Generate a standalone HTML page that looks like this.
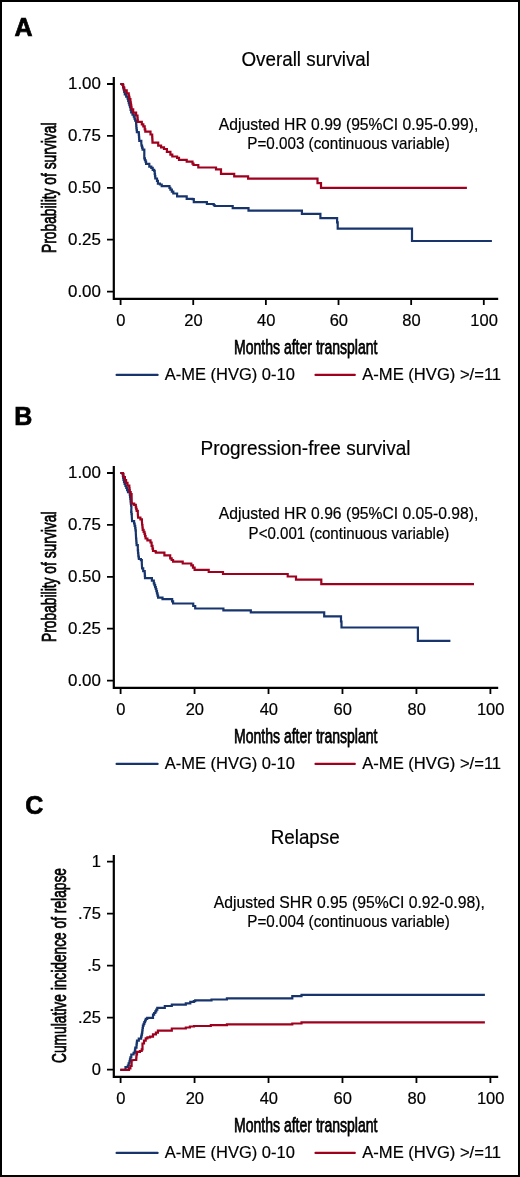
<!DOCTYPE html>
<html><head><meta charset="utf-8"><style>
html,body{margin:0;padding:0;background:#fff;}
svg{display:block;will-change:transform;}
text{font-family:"Liberation Sans", sans-serif;fill:#000;stroke:#000;stroke-width:0.2px;}
</style></head><body>
<svg width="520" height="1177" viewBox="0 0 520 1177">
<rect x="1" y="1" width="518" height="1175" fill="#fff" stroke="#000" stroke-width="2"/>
<text x="14.4" y="35.8" font-size="25" font-weight="bold" style="stroke-width:0.7px">A</text>
<text x="241.5" y="65.5" font-size="20.6" textLength="128.5" lengthAdjust="spacingAndGlyphs">Overall survival</text>
<text x="218.8" y="129.7" font-size="16.4" textLength="259.5" lengthAdjust="spacingAndGlyphs">Adjusted HR 0.99 (95%CI 0.95-0.99),</text>
<text x="247.3" y="148.7" font-size="16.4" textLength="202.5" lengthAdjust="spacingAndGlyphs">P=0.003 (continuous variable)</text>
<path d="M113.8,77 V299.8 M112.7,298.8 H498.2" stroke="#000" stroke-width="2.2" fill="none"/>
<text x="100.9" y="89.3" font-size="16.5" text-anchor="end" textLength="32.9" lengthAdjust="spacingAndGlyphs">1.00</text>
<text x="100.9" y="141.2" font-size="16.5" text-anchor="end" textLength="32.9" lengthAdjust="spacingAndGlyphs">0.75</text>
<text x="100.9" y="193.1" font-size="16.5" text-anchor="end" textLength="32.9" lengthAdjust="spacingAndGlyphs">0.50</text>
<text x="100.9" y="244.9" font-size="16.5" text-anchor="end" textLength="32.9" lengthAdjust="spacingAndGlyphs">0.25</text>
<text x="100.9" y="296.9" font-size="16.5" text-anchor="end" textLength="32.9" lengthAdjust="spacingAndGlyphs">0.00</text>
<text x="120.9" y="326" font-size="16.5" text-anchor="middle">0</text>
<text x="193.54" y="326" font-size="16.5" text-anchor="middle">20</text>
<text x="266.18" y="326" font-size="16.5" text-anchor="middle">40</text>
<text x="338.82" y="326" font-size="16.5" text-anchor="middle">60</text>
<text x="411.46" y="326" font-size="16.5" text-anchor="middle">80</text>
<text x="484.1" y="326" font-size="16.5" text-anchor="middle">100</text>
<path d="M107,84 H113 M107,135.9 H113 M107,187.8 H113 M107,239.6 H113 M107,291.6 H113 M120.6,299.8 V305 M193.24,299.8 V305 M265.88,299.8 V305 M338.52,299.8 V305 M411.16,299.8 V305 M483.8,299.8 V305" stroke="#000" stroke-width="1.8" fill="none"/>
<text x="234" y="353.6" font-size="20" textLength="143.5" lengthAdjust="spacingAndGlyphs" style="stroke-width:0.75px">Months after transplant</text>
<text transform="translate(55.9,253) rotate(-90)" x="0" y="0" font-size="20" textLength="130.5" lengthAdjust="spacingAndGlyphs" style="stroke-width:0.75px">Probability of survival</text>
<path d="M116.6,374.9 H157.6" stroke="#17346c" stroke-width="2.2" stroke-linecap="round" fill="none"/>
<path d="M315.5,374.9 H354.8" stroke="#9e001e" stroke-width="2.2" stroke-linecap="round" fill="none"/>
<text x="164.8" y="379.7" font-size="16.5" textLength="130" lengthAdjust="spacingAndGlyphs">A-ME (HVG) 0-10</text>
<text x="362.3" y="379.7" font-size="16.5" textLength="138.8" lengthAdjust="spacingAndGlyphs">A-ME (HVG) &gt;/=11</text>
<path d="M120.30,84.00 H122.60 V84.90 H123.10 V87.20 H123.60 V89.50 H124.20 V92.00 H124.80 V94.50 H126.20 V96.55 H127.60 V98.60 H128.20 V100.85 H128.80 V103.10 H129.40 V105.10 H130.00 V107.10 H130.60 V109.80 H131.20 V112.50 H132.50 V114.55 H133.80 V116.60 H134.50 V118.65 H135.20 V120.70 H136.10 V123.50 H136.25 V125.85 H136.40 V128.20 H136.65 V130.20 H136.90 V132.20 H138.70 V133.10 H138.85 V134.95 H139.00 V136.80 H139.15 V138.85 H139.30 V140.90 H141.30 V143.20 L141.50,145.60 H142.05 V147.60 H142.60 V149.60 H144.30 V151.30 L144.30,158.30 H144.90 V160.00 H145.50 V161.70 H146.10 V163.80 H149.00 H149.30 V166.60 H151.30 V167.80 H152.70 V169.80 H154.20 V171.00 H154.70 V173.90 H155.00 V176.20 H155.30 V178.50 H157.00 V180.80 H157.90 V183.70 H159.90 V184.50 H161.70 V186.20 H168.50 H169.45 V187.90 H170.40 V189.60 H171.85 V191.55 H173.30 V193.50 H177.10 V196.30 H186.70 V198.80 H192.50 V199.20 H193.80 V202.10 H206.90 V204.00 H213.70 V205.00 H214.60 V206.00 H232.70 V208.10 H248.50 V210.60 H301.90 V213.80 H320.40 V218.10 H337.10 V222.30 H337.70 V228.70 H412.00 V241.00 H491.90" stroke="#17346c" stroke-width="2.2" fill="none" stroke-linejoin="miter"/>
<path d="M120.30,84.00 H122.60 V84.90 H123.20 V87.50 H124.30 V90.40 H126.70 V93.30 H128.70 V95.60 H129.10 V97.30 H129.50 V99.00 H130.40 V101.90 H130.70 V103.65 H131.00 V105.40 H131.30 V107.40 H131.60 V109.40 H133.20 V112.60 H136.10 V115.50 H137.50 V118.30 H137.65 V120.05 H137.80 V121.80 H141.00 H141.80 V124.40 H143.30 V126.40 H144.70 V129.30 H145.30 V131.60 H149.40 H150.50 V134.50 H152.20 V136.80 H152.30 V138.73 H152.40 V140.67 H152.50 V142.60 H157.40 H158.20 V145.60 H161.10 V147.30 H164.00 V149.00 H166.90 V151.90 H170.40 V154.60 H172.30 V156.50 H177.10 V157.90 H179.00 V159.80 H186.70 V161.70 H192.50 V163.60 H193.50 V165.00 H198.30 V167.50 H216.00 V169.40 H221.00 V173.80 H234.20 V176.30 H248.10 V178.70 H317.50 V183.10 H321.00 V187.90 H466.90" stroke="#9e001e" stroke-width="2.2" fill="none" stroke-linejoin="miter"/>
<text x="14.3" y="424.8" font-size="25" font-weight="bold" style="stroke-width:0.7px">B</text>
<text x="200.5" y="454.5" font-size="20.6" textLength="210" lengthAdjust="spacingAndGlyphs">Progression-free survival</text>
<text x="218.8" y="518.7" font-size="16.4" textLength="259.5" lengthAdjust="spacingAndGlyphs">Adjusted HR 0.96 (95%CI 0.05-0.98),</text>
<text x="248.6" y="539.2" font-size="16.4" textLength="200.8" lengthAdjust="spacingAndGlyphs">P&lt;0.001 (continuous variable)</text>
<path d="M113.8,466 V688.8 M112.7,687.8 H498.2" stroke="#000" stroke-width="2.2" fill="none"/>
<text x="100.9" y="478.3" font-size="16.5" text-anchor="end" textLength="32.9" lengthAdjust="spacingAndGlyphs">1.00</text>
<text x="100.9" y="530.2" font-size="16.5" text-anchor="end" textLength="32.9" lengthAdjust="spacingAndGlyphs">0.75</text>
<text x="100.9" y="582.1" font-size="16.5" text-anchor="end" textLength="32.9" lengthAdjust="spacingAndGlyphs">0.50</text>
<text x="100.9" y="633.9" font-size="16.5" text-anchor="end" textLength="32.9" lengthAdjust="spacingAndGlyphs">0.25</text>
<text x="100.9" y="685.9" font-size="16.5" text-anchor="end" textLength="32.9" lengthAdjust="spacingAndGlyphs">0.00</text>
<text x="120.9" y="715" font-size="16.5" text-anchor="middle">0</text>
<text x="194.86" y="715" font-size="16.5" text-anchor="middle">20</text>
<text x="268.82" y="715" font-size="16.5" text-anchor="middle">40</text>
<text x="342.78" y="715" font-size="16.5" text-anchor="middle">60</text>
<text x="416.74" y="715" font-size="16.5" text-anchor="middle">80</text>
<text x="490.7" y="715" font-size="16.5" text-anchor="middle">100</text>
<path d="M107,473 H113 M107,524.9 H113 M107,576.8 H113 M107,628.6 H113 M107,680.6 H113 M120.6,688.8 V694 M194.56,688.8 V694 M268.52,688.8 V694 M342.48,688.8 V694 M416.44,688.8 V694 M490.4,688.8 V694" stroke="#000" stroke-width="1.8" fill="none"/>
<text x="234" y="742.6" font-size="20" textLength="143.5" lengthAdjust="spacingAndGlyphs" style="stroke-width:0.75px">Months after transplant</text>
<text transform="translate(55.9,642) rotate(-90)" x="0" y="0" font-size="20" textLength="130.5" lengthAdjust="spacingAndGlyphs" style="stroke-width:0.75px">Probability of survival</text>
<path d="M116.6,763.9 H157.6" stroke="#17346c" stroke-width="2.2" stroke-linecap="round" fill="none"/>
<path d="M315.5,763.9 H354.8" stroke="#9e001e" stroke-width="2.2" stroke-linecap="round" fill="none"/>
<text x="164.8" y="768.7" font-size="16.5" textLength="130" lengthAdjust="spacingAndGlyphs">A-ME (HVG) 0-10</text>
<text x="362.3" y="768.7" font-size="16.5" textLength="138.8" lengthAdjust="spacingAndGlyphs">A-ME (HVG) &gt;/=11</text>
<path d="M120.30,473.00 H122.60 V474.00 H122.90 V476.00 H123.20 V478.00 H123.50 V480.00 H124.05 V482.00 H124.60 V484.00 H125.45 V486.00 H126.30 V488.00 H127.15 V490.05 H128.00 V492.10 H129.80 V495.00 H130.05 V497.00 H130.30 V499.00 H130.55 V501.30 H130.80 V503.60 H131.10 V505.65 H131.40 V507.70 L131.20,511.90 H131.50 V514.20 H131.80 V516.50 L132.10,521.20 H134.10 V523.50 H134.65 V525.80 H135.20 V528.10 H135.50 V530.40 H135.80 V532.70 L136.10,538.50 H136.27 V540.73 H136.43 V542.97 H136.60 V545.20 H137.80 V546.30 L137.80,550.40 H138.05 V553.00 H138.30 V555.60 H138.60 V557.30 H138.90 V559.00 H140.90 V560.20 H141.80 V563.10 L142.10,568.30 H143.20 V571.20 H144.70 V573.50 H144.85 V575.80 H145.00 V578.10 H150.00 H151.90 V580.70 H153.80 V583.30 H154.47 V585.20 H155.13 V587.10 H155.80 V589.00 H156.38 V591.17 H156.95 V593.35 H157.53 V595.53 H158.10 V597.70 H162.50 V599.20 H171.20 H172.15 V601.35 H173.10 V603.50 H191.30 H193.25 V606.00 H195.20 V608.50 H223.40 V610.40 H250.80 V612.30 H324.20 V616.30 H341.00 V621.50 H341.50 V627.50 H417.90 V640.80 H450.40" stroke="#17346c" stroke-width="2.2" fill="none" stroke-linejoin="miter"/>
<path d="M120.30,473.00 H122.90 V473.90 H123.50 V477.10 H124.90 V480.00 H126.10 V482.80 H127.50 V485.70 H129.30 V488.00 H129.55 V490.05 H129.80 V492.10 H130.70 V494.10 H131.60 V496.10 L131.80,503.60 H134.20 V504.80 H135.80 V507.30 H136.25 V509.05 H136.70 V510.80 H137.80 V513.70 L138.10,517.70 H140.40 V519.40 H141.90 V521.20 L142.20,525.20 H142.45 V527.50 H142.70 V529.80 H143.60 V531.85 H144.50 V533.90 H145.05 V536.20 H145.60 V538.50 H147.40 V540.40 H150.50 V542.50 H151.60 V545.80 H152.50 V548.70 H153.00 V551.00 H155.40 V551.50 H155.90 V552.70 H164.40 V555.40 H170.20 V558.30 H171.65 V560.00 H173.10 V561.70 H182.70 V563.50 H184.60 H191.30 V565.40 H192.95 V567.60 H194.60 V569.80 H208.70 V572.00 H223.00 V574.00 H287.70 V576.50 H296.00 V579.70 H321.30 V584.20 H474.00" stroke="#9e001e" stroke-width="2.2" fill="none" stroke-linejoin="miter"/>
<text x="25.2" y="813.8" font-size="25" font-weight="bold" style="stroke-width:0.7px">C</text>
<text x="270.7" y="843.5" font-size="20.6" textLength="69" lengthAdjust="spacingAndGlyphs">Relapse</text>
<text x="213.8" y="907.7" font-size="16.4" textLength="271" lengthAdjust="spacingAndGlyphs">Adjusted SHR 0.95 (95%CI 0.92-0.98),</text>
<text x="247.3" y="926.7" font-size="16.4" textLength="202.5" lengthAdjust="spacingAndGlyphs">P=0.004 (continuous variable)</text>
<path d="M113.8,855 V1077.8 M112.7,1076.8 H498.2" stroke="#000" stroke-width="2.2" fill="none"/>
<text x="100.9" y="867" font-size="16.5" text-anchor="end">1</text>
<text x="100.9" y="919" font-size="16.5" text-anchor="end">.75</text>
<text x="100.9" y="970.9" font-size="16.5" text-anchor="end">.5</text>
<text x="100.9" y="1022.9" font-size="16.5" text-anchor="end">.25</text>
<text x="100.9" y="1074.9" font-size="16.5" text-anchor="end">0</text>
<text x="120.9" y="1104" font-size="16.5" text-anchor="middle">0</text>
<text x="194.86" y="1104" font-size="16.5" text-anchor="middle">20</text>
<text x="268.82" y="1104" font-size="16.5" text-anchor="middle">40</text>
<text x="342.78" y="1104" font-size="16.5" text-anchor="middle">60</text>
<text x="416.74" y="1104" font-size="16.5" text-anchor="middle">80</text>
<text x="490.7" y="1104" font-size="16.5" text-anchor="middle">100</text>
<path d="M107,861.7 H113 M107,913.7 H113 M107,965.6 H113 M107,1017.6 H113 M107,1069.6 H113 M120.6,1077.8 V1083 M194.56,1077.8 V1083 M268.52,1077.8 V1083 M342.48,1077.8 V1083 M416.44,1077.8 V1083 M490.4,1077.8 V1083" stroke="#000" stroke-width="1.8" fill="none"/>
<text x="234" y="1131.6" font-size="20" textLength="143.5" lengthAdjust="spacingAndGlyphs" style="stroke-width:0.75px">Months after transplant</text>
<text transform="translate(65.9,1063) rotate(-90)" x="0" y="0" font-size="20" textLength="195" lengthAdjust="spacingAndGlyphs" style="stroke-width:0.75px">Cumulative incidence of relapse</text>
<path d="M116.6,1152.9 H157.6" stroke="#17346c" stroke-width="2.2" stroke-linecap="round" fill="none"/>
<path d="M315.5,1152.9 H354.8" stroke="#9e001e" stroke-width="2.2" stroke-linecap="round" fill="none"/>
<text x="164.8" y="1157.7" font-size="16.5" textLength="130" lengthAdjust="spacingAndGlyphs">A-ME (HVG) 0-10</text>
<text x="362.3" y="1157.7" font-size="16.5" textLength="138.8" lengthAdjust="spacingAndGlyphs">A-ME (HVG) &gt;/=11</text>
<path d="M120.30,1069.80 L122.50,1069.80 H125.50 V1067.20 H127.80 V1065.50 H128.65 V1063.45 H129.50 V1061.40 H129.95 V1059.40 H130.40 V1057.40 H131.30 V1054.50 H133.60 V1052.80 H134.70 V1051.60 H135.00 V1049.60 H135.30 V1047.60 H136.50 V1044.70 H136.75 V1042.70 H137.00 V1040.70 H138.80 V1038.60 H141.10 V1036.60 H141.55 V1034.60 H142.00 V1032.60 H142.30 V1030.30 H142.60 V1028.00 H142.90 V1025.70 H143.60 V1023.95 H144.30 V1022.20 H145.05 V1020.50 H145.80 V1018.80 H147.20 V1017.90 H151.30 H153.00 V1014.70 H154.15 V1013.00 H155.30 V1011.30 H156.30 V1009.55 H157.30 V1007.80 H164.80 V1006.00 H171.80 V1004.70 H185.80 V1003.30 H189.00 H190.30 V1001.90 H193.80 V1001.20 H195.20 V1000.40 H211.50 V999.50 H226.90 V998.40 H292.30 V996.20 H301.50 V994.80 H484.90" stroke="#17346c" stroke-width="2.2" fill="none" stroke-linejoin="miter"/>
<path d="M120.30,1069.80 H126.70 H129.00 V1068.40 H130.40 V1066.00 H131.60 V1063.20 L131.80,1060.30 L134.20,1060.00 H136.20 V1058.50 H136.35 V1056.50 H136.50 V1054.50 H137.00 V1051.90 H139.90 V1051.00 H141.70 V1049.30 H142.50 V1047.00 L142.50,1043.50 H144.00 V1040.70 H145.70 V1038.30 H147.40 V1037.40 H150.10 V1036.70 H153.00 V1034.40 H155.90 V1032.60 H157.90 V1030.60 H171.80 V1028.50 H185.80 V1027.50 H189.90 V1026.50 H194.00 V1026.00 H210.80 V1025.10 H226.90 V1024.40 H292.30 V1023.50 H301.50 V1022.30 H484.90" stroke="#9e001e" stroke-width="2.2" fill="none" stroke-linejoin="miter"/>
</svg>
</body></html>
